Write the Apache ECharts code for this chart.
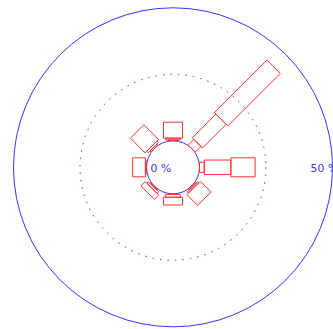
<!DOCTYPE html>
<html><head><meta charset="utf-8">
<script src="https://cdn.jsdelivr.net/npm/echarts@6/dist/echarts.min.js"></script>
<style>html,body{margin:0;padding:0;background:#fff}#c{width:333px;height:329px}</style>
</head><body><div id="c"></div>
<script>
// Directions and their screen angle in degrees, clockwise from East (radius axis lies along East)
const directions = ['E', 'SE', 'S', 'SW', 'W', 'NW', 'N', 'NE'];
const directionAngles = [0, 45, 90, 135, 180, 225, 270, 315];
// Percent frequency per speed bin (stacked outward)
const bin1 = [1.8, 0.4, 0.2, 0.4, 0.2, 0.5, 0.3, 3.0];
const bin2 = [10.0, 0.6, 1.1, 0.8, 0.2, 0.8, 0.7, 12.6];
const bin3 = [9.1, 5.7, 2.9, 2.3, 4.8, 7.8, 6.0, 27.9];
const radiusTicks = [0, 25, 50];
const radiusLabels = ['0 %', '', '50 %'];

const bins = [bin1, bin2, bin3];
const binWidths = [10, 14.5, 19];
const BLUE = '#3434ff';
const RED = '#ff3030';

const data = [];
directions.forEach((d, i) => {
  let start = 0;
  bins.forEach((b, k) => {
    const end = start + b[i];
    data.push([end, directionAngles[i], start, k]);
    start = end;
  });
});

function renderItem(params, api) {
  const end = api.value(0), ang = api.value(1), start = api.value(2), k = api.value(3);
  const c0 = api.coord([radiusTicks[0], ang]);
  const c1 = api.coord([radiusTicks[radiusTicks.length - 1], ang]);
  let ux = c1[0] - c0[0], uy = c1[1] - c0[1];
  const L = Math.hypot(ux, uy); ux /= L; uy /= L;
  const nx = -uy, ny = ux, hw = binWidths[k] / 2;
  const p0 = api.coord([start, ang]), p1 = api.coord([end, ang]);
  return {
    type: 'polygon',
    z2: 10,
    shape: { points: [
      [p0[0] + nx * hw, p0[1] + ny * hw],
      [p1[0] + nx * hw, p1[1] + ny * hw],
      [p1[0] - nx * hw, p1[1] - ny * hw],
      [p0[0] - nx * hw, p0[1] - ny * hw]
    ] },
    style: { fill: 'none', stroke: RED, lineWidth: 1, opacity: 1 }
  };
}

const chart = echarts.init(document.getElementById('c'), null, { renderer: 'canvas' });
chart.setOption({
  backgroundColor: '#fff',
  animation: false,
  polar: { center: [173, 167.3], radius: [26.5, 159.5] },
  angleAxis: {
    type: 'value', min: 0, max: 360, interval: 45, startAngle: 0, clockwise: true,
    axisLine: { show: true, lineStyle: { color: BLUE, width: 1 } },
    axisTick: { show: false }, axisLabel: { show: false }, splitLine: { show: false }
  },
  radiusAxis: {
    type: 'value', min: radiusTicks[0], max: radiusTicks[2], interval: radiusTicks[1] - radiusTicks[0],
    axisLine: { show: false }, axisTick: { show: false },
    splitLine: { show: true, lineStyle: { color: ['rgba(0,0,0,0)', BLUE, 'rgba(0,0,0,0)'], type: [1.5, 6], width: 1 } },
    axisLabel: {
      margin: 0, align: 'center', verticalAlign: 'middle',
      fontFamily: 'DejaVu Sans', fontSize: 11, color: BLUE,
      formatter: function (v) {
        const i = radiusTicks.indexOf(v);
        const t = radiusLabels[i] || '';
        if (!t) return '';
        return i === 0 ? '{a|' + t + '}' : '{b|' + t + '}';
      },
      rich: {
        a: { padding: [3, 77, 0, 0], fontFamily: 'DejaVu Sans', fontSize: 11, color: BLUE },
        b: { padding: [3, 16, 0, 0], fontFamily: 'DejaVu Sans', fontSize: 11, color: BLUE }
      }
    }
  },
  series: [{
    type: 'custom', coordinateSystem: 'polar', renderItem: renderItem,
    encode: { radius: 0, angle: 1 }, data: data, clip: false, silent: true
  }]
});
</script></body></html>
